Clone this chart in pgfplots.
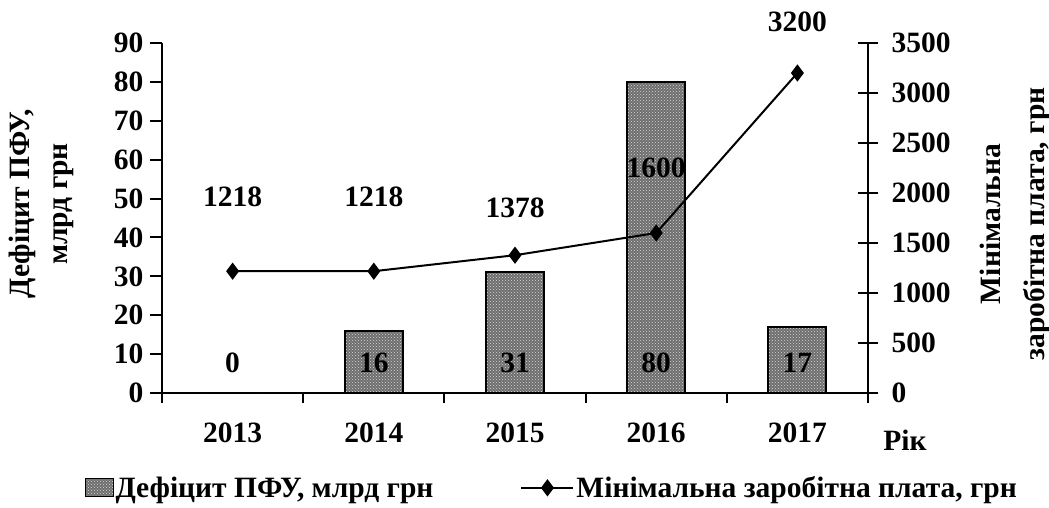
\documentclass[border=0pt]{standalone}
\usepackage{fontspec}
\setmainfont{Liberation Serif}
\usepackage{pgfplots}
\pgfplotsset{compat=1.18}
\usetikzlibrary{patterns}
\newcommand{\F}{\fontsize{29.5}{33}\selectfont\bfseries}
\definecolor{bargray}{RGB}{110,110,110}
\tikzset{barstyle/.style={draw=black, line width=2pt, fill=bargray, postaction={pattern=crosshatch dots, pattern color=white!85!black}}}
\pgfplotsset{
  barlegend/.style={legend image code/.code={\draw[##1] (0pt,-9pt) rectangle (28pt,9pt);}},
  linelegend/.style={legend image code/.code={\draw[mark repeat=2,mark phase=2,##1] plot coordinates {(0pt,0pt) (26pt,0pt) (52pt,0pt)};}},
}
\begin{document}
\begin{tikzpicture}
\useasboundingbox (-162pt,-114pt) rectangle (887pt,393pt);
\begin{axis}[
  scale only axis, width=706pt, height=350pt,
  at={(0,0)}, anchor=south west,
  xmin=-0.5, xmax=4.5, ymin=0, ymax=90,
  axis x line*=bottom, axis y line*=left,
  axis line style={line width=2.5pt, -},
  xtick={0,...,4}, xticklabels={2013,2014,2015,2016,2017},
  minor xtick={-0.5,0.5,...,4.5},
  major x tick style={draw=none},
  minor x tick style={line width=2pt, black},
  minor tick length=10pt,
  ytick={0,10,...,90},
  y tick style={line width=2pt, black},
  major tick length=12pt,
  tick align=outside,
  tick label style={font=\F},
  /pgf/number format/assume math mode=true,
  yticklabel style={xshift=-3pt},
  xticklabel style={yshift=-14pt},
  clip=false,
]
\addplot[ybar, bar width=58pt, barstyle] coordinates {(0,0)(1,16)(2,31)(3,80)(4,17)};
\node[font=\F] at (axis cs:0,7.7) {0};
\node[font=\F] at (axis cs:1,7.7) {16};
\node[font=\F] at (axis cs:2,7.7) {31};
\node[font=\F] at (axis cs:3,7.7) {80};
\node[font=\F] at (axis cs:4,7.7) {17};
\end{axis}
\begin{axis}[
  scale only axis, width=706pt, height=350pt,
  at={(0,0)}, anchor=south west,
  xmin=-0.5, xmax=4.5, ymin=0, ymax=3500,
  axis x line=none, axis y line*=right,
  axis line style={line width=2.5pt, -},
  ytick={0,500,...,3500},
  y tick style={line width=2pt, black},
  major tick length=20pt,
  ytick align=center,
  tick label style={font=\F},
  /pgf/number format/assume math mode=true,
  /pgf/number format/set thousands separator={},
  yticklabel style={xshift=10pt},
  clip=false,
  legend columns=2,
  legend style={draw=none, at={(0.552,-0.271)}, anchor=center, font=\F,
    /tikz/every even column/.append style={column sep=85pt}},
]
\addlegendimage{barstyle, line width=1pt, barlegend}
\addlegendentry{Дефіцит ПФУ, млрд грн}
\addplot[black, line width=2pt, mark=diamond*, mark size=7pt, linelegend]
  coordinates {(0,1218)(1,1218)(2,1378)(3,1600)(4,3200)};
\addlegendentry{Мінімальна заробітна плата, грн}
\node[font=\F] at (axis cs:0,1960) {1218};
\node[font=\F] at (axis cs:1,1960) {1218};
\node[font=\F] at (axis cs:2,1850) {1378};
\node[font=\F] at (axis cs:3,2250) {1600};
\node[font=\F] at (axis cs:4,3710) {3200};
\end{axis}
\node[rotate=90, align=center, font=\F] at (-121pt,189pt) {Дефіцит ПФУ,\\[5pt]млрд грн};
\node[rotate=90, align=center, font=\F] at (853pt,169pt) {Мінімальна\\[11pt]заробітна плата, грн};
\node[font=\F] at (743pt,-47pt) {Рік};
\end{tikzpicture}
\end{document}
